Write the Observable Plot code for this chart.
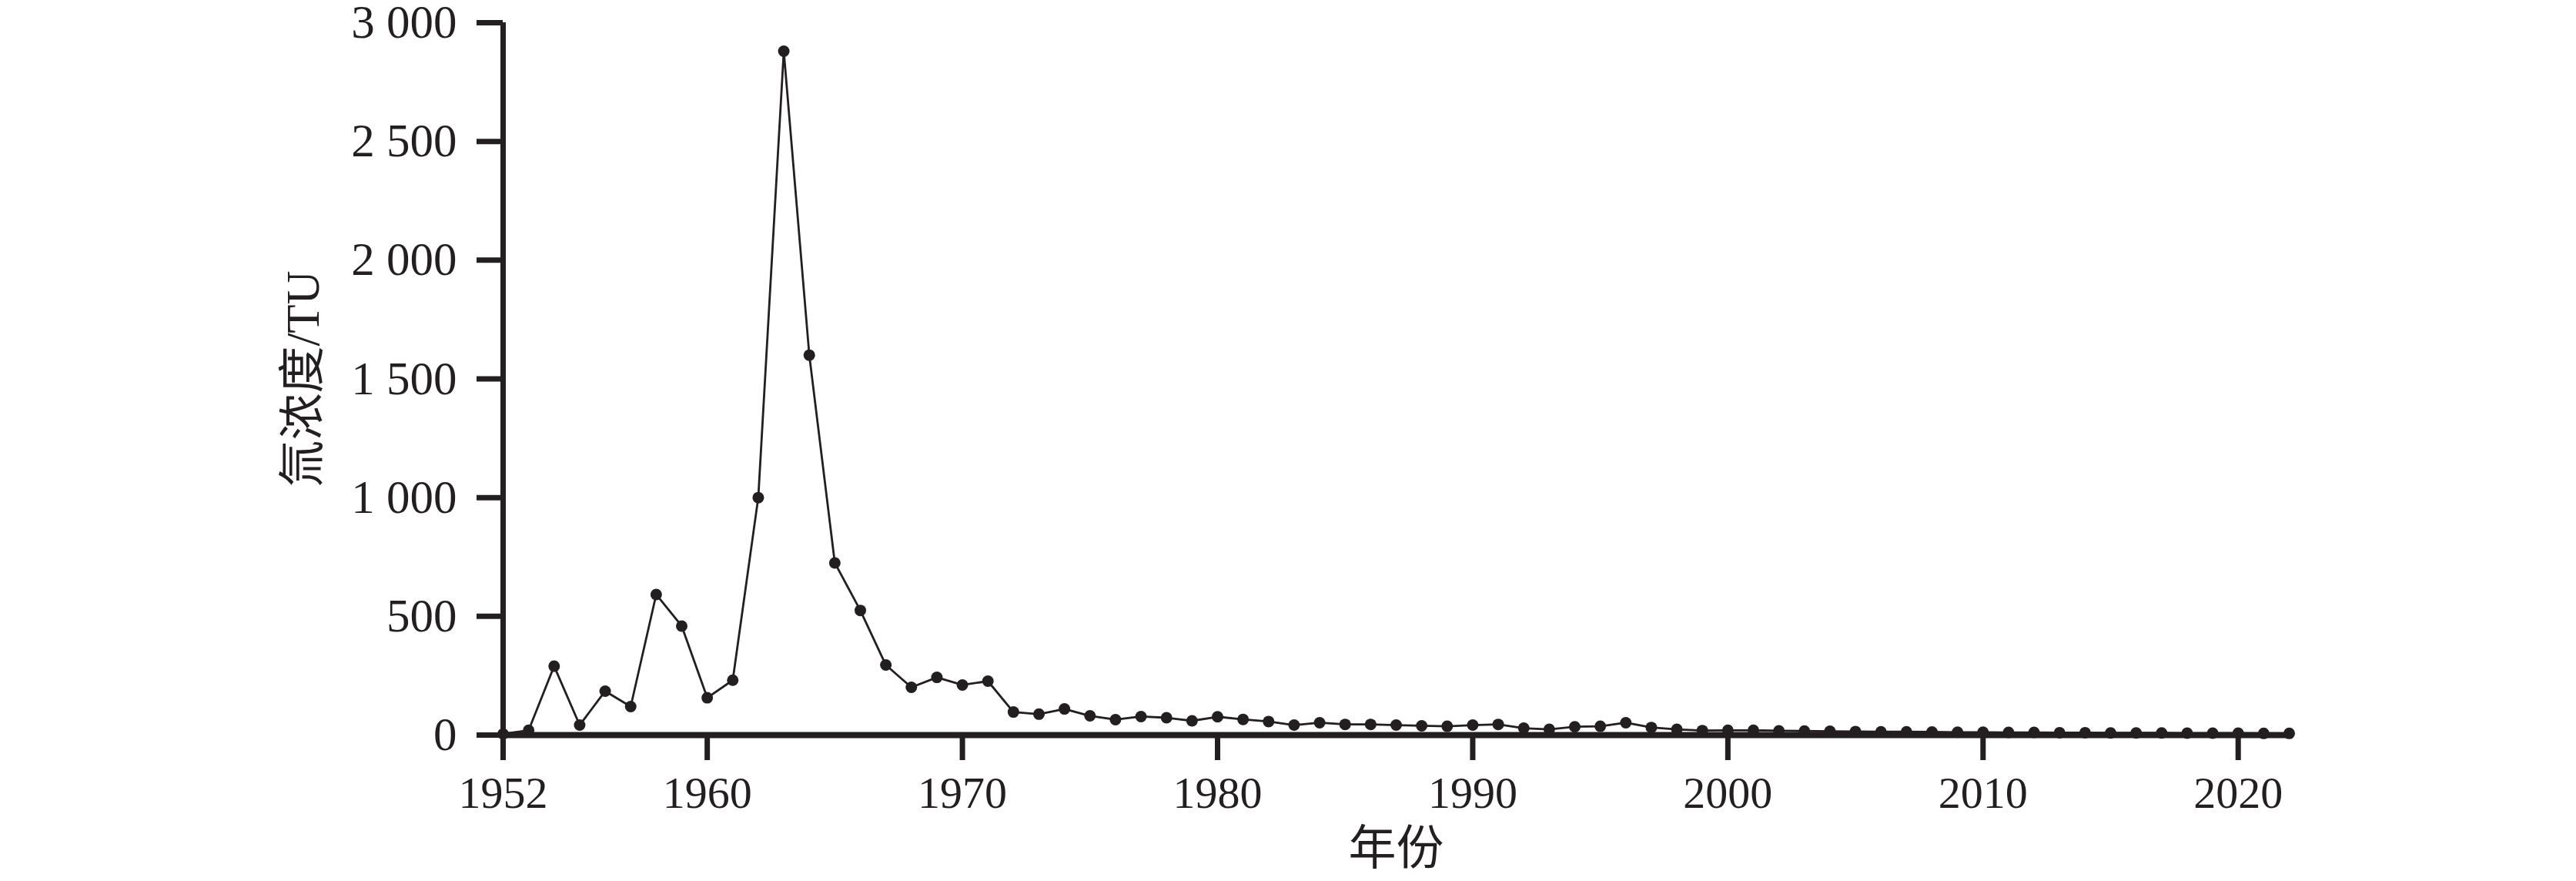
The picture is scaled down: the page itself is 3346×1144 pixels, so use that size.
<!DOCTYPE html>
<html><head><meta charset="utf-8">
<script src="https://cdn.jsdelivr.net/npm/d3@7"></script>
<script src="https://cdn.jsdelivr.net/npm/@observablehq/plot@0.6"></script>
<style>html,body{margin:0;padding:0;background:#fff;overflow:hidden}</style>
</head><body><div id="chart"></div>
<script>
const years = [1952,1953,1954,1955,1956,1957,1958,1959,1960,1961,1962,1963,1964,1965,1966,1967,1968,1969,1970,1971,1972,1973,1974,1975,1976,1977,1978,1979,1980,1981,1982,1983,1984,1985,1986,1987,1988,1989,1990,1991,1992,1993,1994,1995,1996,1997,1998,1999,2000,2001,2002,2003,2004,2005,2006,2007,2008,2009,2010,2011,2012,2013,2014,2015,2016,2017,2018,2019,2020,2021,2022];
const tritium = [5,20,290,42,185,120,592,459,157,231,1000,2880,1600,725,525,295,201,243,211,227,97,88,110,81,65,78,73,60,77,66,57,42,52,45,45,42,39,37,42,45,29,24,35,37,52,32,24,19,20,20,18,17,16,15,14,14,13,12,12,11,11,10,10,9,9,9,8,8,8,7,7];
const xTicks = [1952,1960,1970,1980,1990,2000,2010,2020];
const yTicks = [0,500,1000,1500,2000,2500,3000];
const xLabel = "年份";
const yLabel = "氚浓度/TU";

const data = years.map((year, i) => ({year, value: tritium[i]}));
const ink = "#231f20";
const fmtY = d => d3.format(",")(d).replace(/,/g, " ");

const chart = Plot.plot({
  width: 3346, height: 1144,
  marginLeft: 653, marginRight: 373, marginTop: 29, marginBottom: 190,
  style: {fontFamily: '"Liberation Serif", "Noto Sans CJK SC", serif', fontSize: "58px", color: ink, background: "#fff"},
  x: {domain: [1952, 2022]},
  y: {domain: [0, 3000]},
  marks: [
    Plot.axisX({ticks: xTicks, tickFormat: d => String(d), tickSize: 33, tickPadding: 20, strokeWidth: 7, stroke: ink, fontSize: 58, label: null}),
    Plot.axisX({ticks: [], fontSize: 62, label: xLabel, labelAnchor: "center", labelArrow: "none", labelOffset: 168}),
    Plot.axisY({ticks: yTicks, tickFormat: fmtY, tickSize: 34, tickPadding: 26, strokeWidth: 7, stroke: ink, fontSize: 61,
      label: yLabel, labelAnchor: "center", labelArrow: "none", labelOffset: 283}),
    Plot.ruleX([1952], {y1: 0, y2: 3000, stroke: ink, strokeWidth: 7}),
    Plot.ruleY([0], {stroke: ink, strokeWidth: 8}),
    Plot.line(data, {x: "year", y: "value", stroke: ink, strokeWidth: 2.8}),
    Plot.dot(data, {x: "year", y: "value", r: 7.5, fill: ink, stroke: "none"})
  ]
});
document.getElementById("chart").appendChild(chart);
</script>
</body></html>
